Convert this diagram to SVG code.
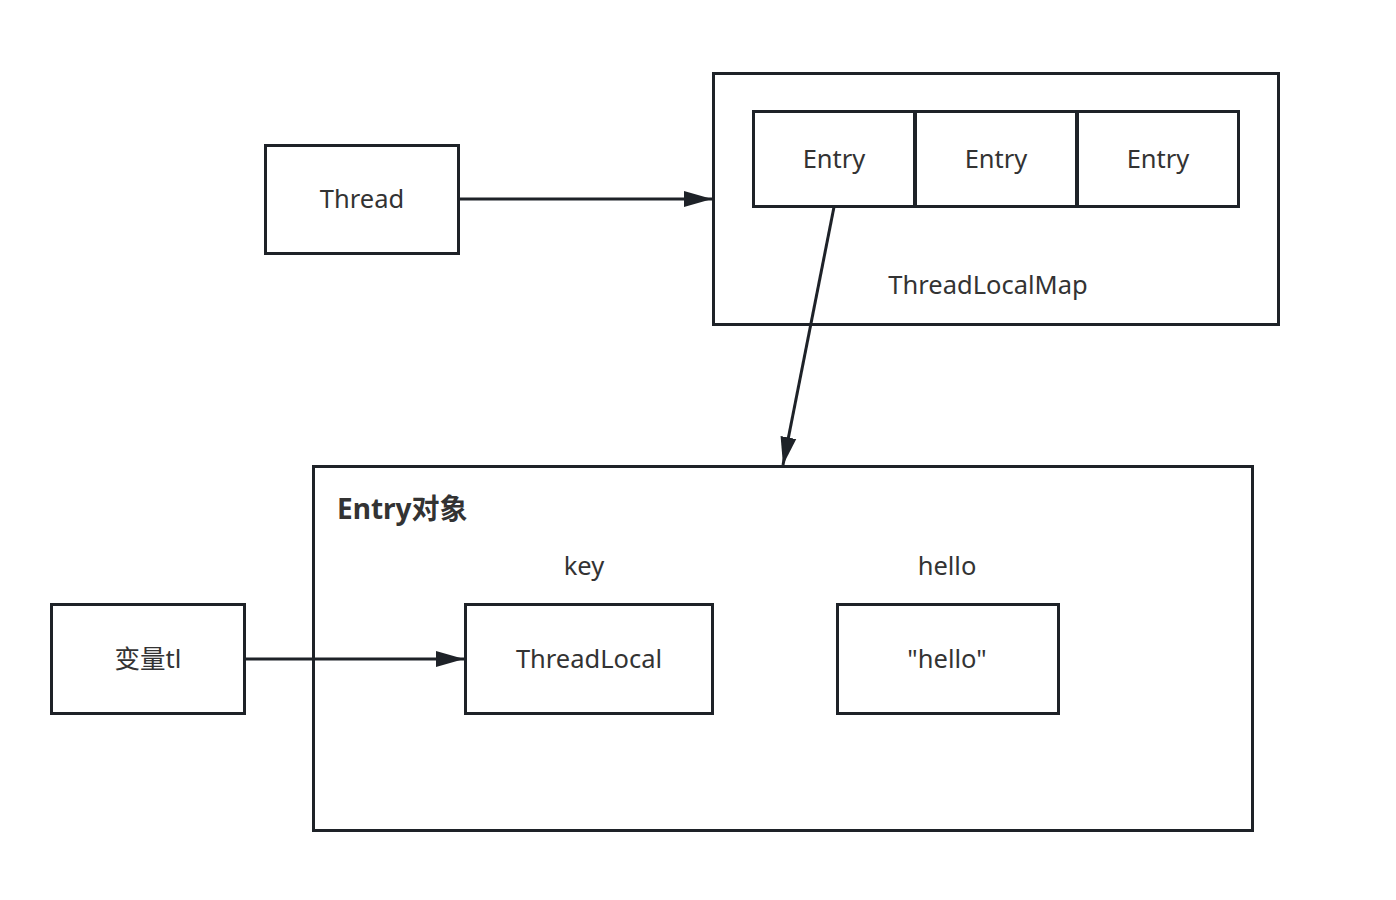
<svg xmlns="http://www.w3.org/2000/svg" width="1396" height="900" viewBox="0 0 1396 900">
<style>
.box{fill:#fff;stroke:#1e2228;stroke-width:3}
.cont{fill:none;stroke:#1e2228;stroke-width:3}
.t{font-family:"Noto Sans","Noto Sans CJK SC",sans-serif;font-size:25.5px;fill:#333;text-anchor:middle;dominant-baseline:central}
.b{font-family:"Noto Sans","Noto Sans CJK SC",sans-serif;font-size:28px;font-weight:bold;fill:#333}
.line{fill:none;stroke:#1e2228;stroke-width:3}
</style>
<defs>
<marker id="a2" markerUnits="userSpaceOnUse" markerWidth="30" markerHeight="20" refX="28" refY="8" orient="auto" viewBox="0 0 30 16">
<path d="M0,0 L28,8 L0,16 Z" fill="#1e2228"/>
</marker>
</defs>
<g id="tlm">
<rect class="cont" x="713.5" y="73.5" width="565" height="251"/>
<text class="t" x="988" y="284">ThreadLocalMap</text>
</g>
<g id="entry1"><rect class="box" x="753.5" y="111.5" width="161" height="95"/><text class="t" x="834" y="158">Entry</text></g>
<g id="entry2"><rect class="box" x="915.5" y="111.5" width="161" height="95"/><text class="t" x="996" y="158">Entry</text></g>
<g id="entry3"><rect class="box" x="1077.5" y="111.5" width="161" height="95"/><text class="t" x="1158" y="158">Entry</text></g>
<g id="thread"><rect class="box" x="265.5" y="145.5" width="193" height="108"/><text class="t" x="362" y="198">Thread</text></g>
<g id="entryobj">
<rect class="cont" x="313.5" y="466.5" width="939" height="364"/>
<text class="b" x="337" y="519">Entry对象</text>
<text class="t" x="584" y="565">key</text>
<text class="t" x="947" y="565">hello</text>
</g>
<g id="var"><rect class="box" x="51.5" y="604.5" width="193" height="109"/><text class="t" x="148" y="658">变量tl</text></g>
<g id="threadlocal"><rect class="box" x="465.5" y="604.5" width="247" height="109"/><text class="t" x="589" y="658">ThreadLocal</text></g>
<g id="hello"><rect class="box" x="837.5" y="604.5" width="221" height="109"/><text class="t" x="947" y="658">"hello"</text></g>
<g id="connectors">
<line class="line" x1="458" y1="199" x2="712" y2="199" marker-end="url(#a2)"/>
<line class="line" x1="834" y1="207" x2="783" y2="465" marker-end="url(#a2)"/>
<line class="line" x1="244" y1="659" x2="464" y2="659" marker-end="url(#a2)"/>
</g>
</svg>
